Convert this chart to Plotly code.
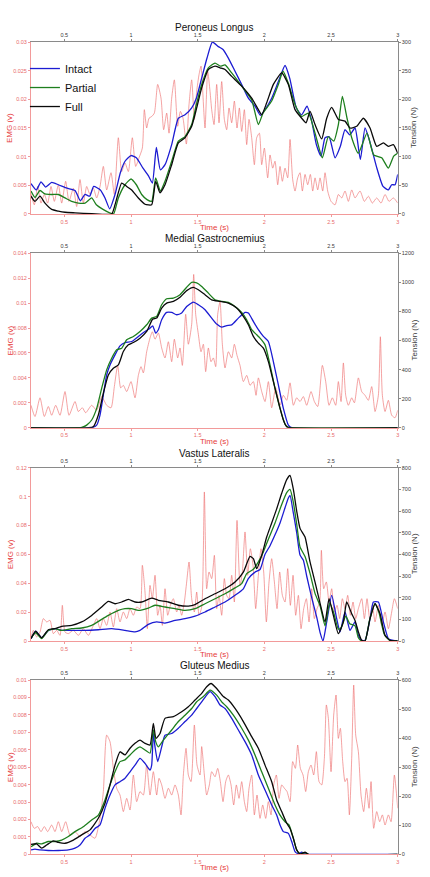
import plotly.graph_objects as go

# ================= DATA =================
# ---- Panel 1: Peroneus Longus ----
p1_emg_t = [0.25,0.275,0.3,0.325,0.35,0.375,0.4,0.425,0.455,0.48,0.51,0.535,0.5675,0.5925,0.6175,0.6425,0.6675,0.6925,0.7175,0.7425,
            0.7675,0.7925,0.8175,0.85,0.875,0.905,0.93,0.955,0.98,1.01,1.035,1.06,1.085,1.1,1.1175,1.135,1.155,1.175,1.2,1.225,
            1.245,1.2675,1.285,1.305,1.325,1.35,1.37,1.39,1.415,1.435,1.455,1.475,1.4925,1.51,1.525,1.535,1.555,1.575,1.5925,1.605,
            1.6225,1.6425,1.66,1.68,1.7,1.7175,1.735,1.755,1.775,1.795,1.8125,1.83,1.85,1.8675,1.885,1.905,1.925,1.9425,1.9625,1.98,
            2.0,2.025,2.0425,2.0625,2.08,2.1,2.1175,2.135,2.155,2.175,2.1925,2.2125,2.23,2.25,2.2675,2.285,2.305,2.325,2.345,2.3625,
            2.38,2.4,2.4175,2.4375,2.455,2.475,2.5,2.53,2.555,2.58,2.605,2.63,2.655,2.68,2.7175,2.75,2.78,2.81,2.8425,2.875,
            2.905,2.935,2.9675,3.0]
p1_emg = [0.0035,0.0016,0.0048,0.0019,0.0034,0.0019,0.0048,0.0022,0.0051,0.0019,0.0057,0.0022,0.0045,0.0013,0.006,0.0019,0.0048,0.0034,0.0045,0.0028,
          0.0048,0.0083,0.0042,0.0072,0.0034,0.0133,0.0074,0.0089,0.0074,0.0133,0.0083,0.0098,0.0115,0.0182,0.015,0.0167,0.017,0.0176,0.0226,0.0202,
          0.0147,0.0176,0.0141,0.0202,0.0234,0.0153,0.0179,0.0167,0.0122,0.0191,0.0234,0.0165,0.0214,0.0243,0.0258,0.0226,0.015,0.0249,0.0214,0.0182,
          0.0156,0.0226,0.0159,0.0231,0.0165,0.0147,0.0185,0.0159,0.0197,0.015,0.0185,0.0144,0.0182,0.0121,0.0165,0.0133,0.0086,0.0133,0.0141,0.0086,
          0.0115,0.0063,0.0103,0.008,0.0092,0.0051,0.0083,0.0057,0.008,0.0063,0.013,0.006,0.004,0.0063,0.0072,0.004,0.0069,0.0051,0.0069,0.004,
          0.0063,0.0042,0.0063,0.004,0.0072,0.004,0.0022,0.0016,0.0034,0.0028,0.004,0.0022,0.0042,0.0028,0.004,0.0022,0.0031,0.0019,0.0028,0.0019,
          0.0034,0.0022,0.0028,0.0019]
p1_intact_t = [0.25,0.29,0.325,0.36,0.405,0.455,0.52,0.58,0.62,0.655,0.69,0.72,0.77,0.805,0.84,0.88,0.92,0.955,1.0,1.04,
               1.09,1.13,1.16,1.19,1.22,1.255,1.305,1.355,1.405,1.455,1.49,1.53,1.57,1.61,1.655,1.69,1.73,1.78,1.83,1.88,
               1.93,1.97,2.005,2.055,2.105,2.155,2.19,2.24,2.28,2.32,2.355,2.39,2.425,2.455,2.485,2.53,2.57,2.605,2.64,2.68,
               2.72,2.755,2.79,2.84,2.89,2.93,2.955,2.98,3.0]
p1_intact = [53,42,56,47,55,51,45,41,23,34,31,48,42,28,9,34,72,92,102,98,
             80,67,54,116,77,86,121,167,173,185,202,237,272,300,292,287,272,249,226,202,
             188,172,182,202,231,259,237,185,173,188,162,121,101,133,135,98,118,147,138,150,
             95,150,127,83,48,42,51,51,69]
p1_partial_t = [0.25,0.28,0.3175,0.355,0.405,0.455,0.505,0.555,0.605,0.655,0.705,0.74,0.79,0.84,0.87,0.905,0.955,1.0,1.04,1.08,
                1.12,1.155,1.185,1.22,1.255,1.305,1.355,1.405,1.455,1.49,1.53,1.58,1.63,1.67,1.705,1.755,1.83,1.905,1.955,1.99,
                2.055,2.105,2.14,2.18,2.23,2.28,2.33,2.38,2.435,2.48,2.52,2.555,2.585,2.62,2.655,2.705,2.77,2.82,2.88,2.93,
                2.97,3.0]
p1_partial = [40,29,41,35,34,34,28,22,19,19,28,16,8,2,0.5,28,51,61,51,34,
              25,22,63,40,57,92,127,135,156,191,226,255,263,258,260,246,223,199,156,176,
              197,226,249,228,191,170,176,141,98,135,127,156,205,167,133,106,141,103,98,80,
              101,106]
p1_full_t = [0.25,0.28,0.3175,0.355,0.405,0.455,0.505,0.58,0.705,0.855,0.88,0.93,0.9675,1.005,1.055,1.105,1.155,1.185,1.2175,1.255,
             1.305,1.355,1.405,1.455,1.4925,1.53,1.58,1.63,1.6675,1.705,1.755,1.83,1.905,1.955,1.98,2.0175,2.0675,2.13,2.18,2.23,
             2.28,2.3125,2.3425,2.38,2.43,2.4675,2.505,2.555,2.605,2.6425,2.6925,2.7425,2.7925,2.8425,2.8925,2.93,2.9675,3.0]
p1_full = [31,22,31,19,8,5,3,2,0.5,0,16,54,48,42,28,17,16,57,37,51,
           86,124,133,153,185,220,252,258,255,252,240,223,202,182,173,194,226,246,226,182,
           167,159,179,156,131,167,186,165,162,150,153,167,150,118,124,118,121,106]

# ---- Panel 2: Medial Gastrocnemius ----
p2_emg_t = [0.25,0.28,0.3175,0.35,0.38,0.405,0.435,0.4675,0.505,0.535,0.58,0.605,0.635,0.66,0.705,0.7425,0.78,0.8175,0.85,0.875,
            0.9,0.9225,0.9425,0.9675,1.0,1.03,1.055,1.075,1.0925,1.1175,1.1425,1.16,1.18,1.205,1.23,1.255,1.28,1.305,1.325,1.35,
            1.3675,1.385,1.41,1.43,1.455,1.47,1.485,1.505,1.525,1.5425,1.56,1.58,1.6,1.6175,1.635,1.65,1.6675,1.685,1.705,1.73,
            1.755,1.775,1.795,1.8175,1.8425,1.8675,1.8925,1.9175,1.9375,1.955,1.98,2.005,2.03,2.055,2.085,2.1175,2.1425,2.1675,2.1925,2.2175,
            2.2425,2.2675,2.2925,2.3175,2.35,2.375,2.4,2.435,2.46,2.485,2.51,2.535,2.555,2.575,2.5925,2.61,2.63,2.655,2.675,2.705,
            2.73,2.755,2.78,2.805,2.83,2.855,2.87,2.885,2.905,2.93,2.955,2.98,3.0]
p2_emg = [0.0018,0.0009,0.0024,0.0009,0.0017,0.001,0.0018,0.001,0.0029,0.001,0.0021,0.0013,0.0016,0.0012,0.0018,0.0014,0.0025,0.0018,0.0016,0.0033,
          0.005,0.0032,0.0034,0.0029,0.0037,0.0024,0.0042,0.0049,0.0044,0.0061,0.0072,0.0077,0.0071,0.0076,0.0064,0.0056,0.0069,0.0053,0.0071,0.0056,
          0.0064,0.005,0.0091,0.0067,0.0083,0.0123,0.0091,0.0075,0.0061,0.0067,0.0045,0.0064,0.0053,0.0056,0.0049,0.0091,0.0101,0.0067,0.0048,0.0061,
          0.0056,0.0067,0.0058,0.005,0.0037,0.0042,0.0034,0.0037,0.0026,0.004,0.0029,0.0021,0.0037,0.0016,0.0032,0.0018,0.0026,0.0022,0.0036,0.0018,
          0.0024,0.0021,0.0025,0.0018,0.0029,0.0021,0.0017,0.005,0.0037,0.0018,0.0024,0.0018,0.0037,0.0021,0.0052,0.0026,0.0018,0.0024,0.002,0.004,
          0.0029,0.0026,0.0022,0.0033,0.0013,0.0026,0.0073,0.0026,0.0013,0.0022,0.001,0.0008,0.0014]
p2_intact_t = [0.25,0.705,0.7425,0.7675,0.7925,0.8175,0.8425,0.88,0.9175,0.955,1.005,1.055,1.105,1.1425,1.1625,1.185,1.205,1.23,1.2675,1.305,
               1.3425,1.38,1.4175,1.4675,1.505,1.555,1.605,1.6425,1.68,1.7175,1.755,1.805,1.855,1.88,1.9175,1.955,1.9925,2.03,2.0675,2.105,
               2.1425,2.18,2.205,3.0]
p2_intact = [0,0,18,87,225,363,432,501,563,586,593,628,662,685,701,651,674,743,793,793,
             777,789,834,864,846,812,754,713,692,703,708,754,793,789,731,674,628,593,455,294,
             133,18,0,0]
p2_partial_t = [0.25,0.605,0.63,0.6675,0.705,0.7425,0.78,0.8175,0.855,0.8925,0.93,0.9675,1.0175,1.0675,1.1175,1.155,1.1925,1.23,1.2675,1.3175,
                1.3675,1.4175,1.455,1.4925,1.53,1.58,1.63,1.68,1.73,1.78,1.83,1.8675,1.905,1.9425,1.9675,2.005,2.0425,2.08,2.1175,2.155,
                2.18,2.205,3.0]
p2_partial = [0,0,2,18,53,133,271,398,478,536,547,605,628,662,708,754,766,846,887,892,
              915,966,1000,996,972,926,880,869,862,834,793,743,674,639,616,570,432,271,133,25,
              2,0,0]
p2_full_t = [0.25,0.68,0.7175,0.755,0.7925,0.83,0.8675,0.905,0.9425,0.98,1.0175,1.0675,1.1175,1.1625,1.1925,1.23,1.2675,1.3175,1.3675,1.4175,
             1.4675,1.505,1.555,1.605,1.6675,1.73,1.7925,1.8425,1.88,1.9175,1.955,1.9925,2.03,2.0675,2.105,2.1425,2.1675,2.1925,3.0]
p2_full = [0,0,7,87,237,363,409,432,524,570,586,616,662,747,754,823,857,869,897,943,
           966,949,915,880,869,857,823,766,708,628,582,547,455,317,179,53,7,0,0]

# ---- Panel 3: Vastus Lateralis ----
p3_emg_t = [0.25,0.2675,0.2925,0.3175,0.3425,0.3675,0.3925,0.4175,0.4425,0.4675,0.485,0.505,0.53,0.5675,0.605,0.6425,0.68,0.7175,0.7425,0.7675,
            0.7925,0.8175,0.8425,0.8675,0.8925,0.9175,0.9425,0.9675,0.9925,1.0175,1.0425,1.0675,1.085,1.105,1.1225,1.1425,1.16,1.18,1.2,1.2175,
            1.235,1.255,1.275,1.295,1.3175,1.3425,1.36,1.38,1.4,1.4175,1.435,1.455,1.475,1.4925,1.51,1.53,1.55,1.5675,1.585,1.605,
            1.625,1.6425,1.66,1.68,1.7,1.7175,1.735,1.755,1.775,1.795,1.8175,1.835,1.855,1.875,1.895,1.915,1.935,1.955,1.975,1.995,
            2.015,2.035,2.055,2.075,2.095,2.115,2.135,2.155,2.175,2.195,2.215,2.235,2.255,2.275,2.295,2.315,2.335,2.355,2.375,2.395,
            2.415,2.4275,2.445,2.465,2.485,2.505,2.525,2.545,2.565,2.585,2.605,2.625,2.645,2.665,2.685,2.705,2.73,2.75,2.77,2.79,
            2.81,2.83,2.855,2.88,2.905,2.93,2.955,2.975,3.0]
p3_emg = [0.0016,0.0074,0.0028,0.0062,0.0155,0.0132,0.0143,0.0051,0.0074,0.0039,0.0247,0.0062,0.0051,0.0074,0.0039,0.0085,0.0039,0.0108,0.0155,0.0085,
          0.0155,0.0108,0.0201,0.0097,0.0224,0.0132,0.0201,0.0155,0.0224,0.0178,0.0235,0.0224,0.0524,0.0339,0.0085,0.0385,0.0293,0.0455,0.0178,0.0247,
          0.0108,0.0362,0.0178,0.0247,0.0293,0.0201,0.0247,0.0178,0.027,0.0409,0.0547,0.0293,0.0201,0.0339,0.0178,0.0235,0.1032,0.0362,0.0478,0.0432,
          0.0593,0.0224,0.0316,0.0178,0.0432,0.0316,0.0293,0.0455,0.027,0.0835,0.0385,0.0478,0.0755,0.0455,0.0639,0.0524,0.0224,0.0455,0.0639,0.0478,
          0.0132,0.0409,0.057,0.0409,0.0224,0.0478,0.0316,0.027,0.0501,0.0247,0.0455,0.0178,0.0316,0.0085,0.0224,0.0293,0.0132,0.0362,0.0155,0.0224,
          0.027,0.0628,0.0362,0.0409,0.027,0.0362,0.0201,0.0247,0.0155,0.0293,0.0224,0.0316,0.0178,0.027,0.0155,0.0224,0.0293,0.0155,0.0293,0.0155,
          0.0247,0.0132,0.0247,0.0108,0.0201,0.0085,0.0201,0.0293,0.0224]
p3_intact_t = [0.25,0.285,0.33,0.38,0.43,0.48,0.555,0.655,0.755,0.855,0.955,1.03,1.0675,1.13,1.1925,1.255,1.33,1.405,1.48,1.555,
               1.63,1.705,1.78,1.8425,1.88,1.93,1.9675,2.005,2.0425,2.08,2.1175,2.155,2.18,2.1925,2.2175,2.2425,2.2675,2.2925,2.3175,2.355,
               2.3925,2.4175,2.44,2.4675,2.505,2.5425,2.5675,2.605,2.6425,2.68,2.705,2.73,2.755,2.7925,2.8175,2.855,2.8925,2.93,2.9675,3.0]
p3_intact = [11,45,15,49,57,49,49,49,52,57,49,42,49,77,88,83,95,103,115,134,
             157,180,211,241,288,318,330,400,440,490,545,615,660,672,590,500,397,373,300,200,
             110,40,0,88,211,103,42,134,49,88,26,3,3,103,180,180,88,11,3,0]
p3_partial_t = [0.25,0.285,0.33,0.38,0.43,0.48,0.555,0.63,0.705,0.78,0.83,0.905,0.955,1.005,1.055,1.13,1.18,1.255,1.33,1.405,
                1.48,1.555,1.63,1.705,1.78,1.83,1.8675,1.9175,1.955,1.9925,2.03,2.08,2.13,2.1675,2.1925,2.2175,2.2425,2.2675,2.305,2.3425,
                2.38,2.42,2.455,2.49,2.52,2.555,2.575,2.61,2.64,2.68,2.705,2.73,2.755,2.79,2.83,2.86,2.9,2.94,3.0]
p3_partial = [14,38,11,49,57,49,57,60,72,100,118,141,149,149,141,152,165,157,149,141,
              149,172,195,218,245,265,311,331,365,411,470,545,630,685,700,640,540,434,390,312,
              220,158,70,175,130,55,60,115,80,70,15,0,0,100,172,130,30,3,0]
p3_full_t = [0.25,0.285,0.33,0.38,0.43,0.48,0.555,0.63,0.705,0.78,0.83,0.88,0.93,0.98,1.03,1.08,1.155,1.205,1.28,1.355,
             1.43,1.48,1.555,1.63,1.705,1.78,1.8425,1.8925,1.9175,1.9425,1.98,2.0175,2.055,2.0925,2.13,2.1675,2.1925,2.2175,2.2425,2.2675,
             2.305,2.3425,2.38,2.4175,2.455,2.485,2.5175,2.555,2.5925,2.6175,2.655,2.68,2.705,2.73,2.755,2.7925,2.83,2.8675,2.905,2.9425,3.0]
p3_full = [11,45,15,52,57,68,72,88,118,157,183,172,180,192,180,180,198,188,180,165,
           161,168,195,218,241,272,318,391,380,334,395,480,545,610,682,745,764,700,600,520,
           480,365,272,175,88,195,118,34,88,180,126,95,42,3,0,103,172,126,26,3,0]

# ---- Panel 4: Gluteus Medius ----
p4_emg_t = [0.25,0.275,0.3,0.325,0.35,0.375,0.405,0.43,0.455,0.48,0.51,0.5425,0.58,0.6175,0.655,0.6925,0.73,0.7675,0.7925,0.8175,
            0.8425,0.8675,0.8925,0.9175,0.9425,0.9675,0.9925,1.0175,1.0425,1.0675,1.0925,1.1175,1.1425,1.1675,1.1925,1.21,1.23,1.255,1.28,1.305,
            1.33,1.355,1.375,1.3925,1.4125,1.43,1.45,1.475,1.495,1.5175,1.53,1.55,1.5675,1.5875,1.605,1.63,1.65,1.67,1.69,1.71,
            1.73,1.75,1.77,1.79,1.81,1.83,1.85,1.8675,1.885,1.905,1.925,1.945,1.9675,1.9875,2.01,2.03,2.05,2.07,2.09,2.11,
            2.13,2.15,2.17,2.1925,2.2125,2.2325,2.25,2.27,2.29,2.31,2.33,2.35,2.37,2.39,2.41,2.43,2.45,2.465,2.48,2.5,
            2.52,2.5375,2.555,2.57,2.5875,2.605,2.62,2.6375,2.655,2.67,2.685,2.705,2.725,2.745,2.765,2.785,2.8,2.82,2.8425,2.865,
            2.885,2.905,2.93,2.95,2.975,3.0]
p4_emg = [0.00187,0.00149,0.00159,0.0013,0.00159,0.0013,0.00168,0.0013,0.00187,0.0013,0.00187,0.00111,0.0013,0.00101,0.0013,0.00111,0.00092,0.00206,0.0036,0.00684,
          0.00646,0.00493,0.00379,0.0034,0.00245,0.00321,0.00254,0.00455,0.00302,0.0036,0.0034,0.00512,0.0034,0.00474,0.0034,0.00436,0.00398,0.00321,0.00379,0.0034,
          0.00398,0.0034,0.00226,0.00455,0.00608,0.00455,0.00417,0.00742,0.00512,0.00455,0.00618,0.00455,0.0034,0.00398,0.00474,0.00445,0.00493,0.00417,0.00302,0.00417,
          0.00455,0.00398,0.00283,0.00398,0.00321,0.00417,0.00302,0.00245,0.00379,0.00455,0.00226,0.0034,0.00206,0.00283,0.00206,0.00302,0.00226,0.00398,0.00455,0.00321,
          0.00398,0.00379,0.0036,0.00302,0.00532,0.00493,0.00627,0.00493,0.00455,0.0036,0.00474,0.00512,0.00455,0.00589,0.00417,0.00398,0.00551,0.00857,0.0078,0.00474,
          0.00799,0.00914,0.00665,0.00723,0.00532,0.00417,0.00436,0.00226,0.00551,0.00971,0.00684,0.00589,0.0034,0.00245,0.00379,0.00264,0.00417,0.00149,0.00245,0.00187,
          0.00226,0.00168,0.00226,0.00187,0.00455,0.00264]
p4_intact_t = [0.25,0.28,0.3175,0.38,0.455,0.53,0.58,0.6175,0.655,0.6925,0.73,0.7675,0.805,0.8425,0.88,0.9175,0.955,0.9925,1.03,1.0675,
               1.105,1.1425,1.155,1.1675,1.18,1.2,1.23,1.255,1.305,1.355,1.405,1.455,1.4925,1.53,1.5675,1.5925,1.63,1.6675,1.705,1.755,
               1.805,1.855,1.905,1.955,2.005,2.055,2.0925,2.1175,2.1425,2.18,2.205,2.23,2.255,2.28,2.305,2.33,3.0]
p4_intact = [15,18,15,13,13,15,21,32,55,67,89,101,158,204,239,250,262,284,307,330,
             313,290,307,416,370,319,370,410,416,434,457,479,502,525,548,560,543,514,502,468,
             428,388,342,273,221,170,135,101,78,72,44,9,1,7,1,0,0]
p4_partial_t = [0.25,0.2925,0.33,0.38,0.43,0.48,0.53,0.58,0.6425,0.705,0.755,0.805,0.8425,0.88,0.9175,0.955,0.9925,1.03,1.0675,1.105,
                1.1425,1.1675,1.185,1.205,1.2425,1.305,1.355,1.405,1.455,1.4925,1.5425,1.5925,1.6425,1.68,1.7175,1.7675,1.83,1.88,1.93,1.98,
                2.03,2.08,2.1175,2.155,2.185,2.2175,2.2425,2.2675,2.305,2.33,3.0]
p4_partial = [26,38,36,44,44,49,61,78,95,118,135,187,239,284,319,325,342,359,370,359,
              348,428,388,370,393,428,457,479,502,525,543,565,548,525,508,479,434,393,342,284,
              227,170,135,112,101,55,15,1,6,0,0]
p4_full_t = [0.25,0.2925,0.33,0.3675,0.4175,0.455,0.505,0.5675,0.63,0.6925,0.755,0.805,0.8425,0.88,0.9175,0.955,0.9925,1.03,1.0675,1.105,
             1.1425,1.1675,1.1875,1.2175,1.255,1.3175,1.38,1.43,1.48,1.53,1.5675,1.6,1.6425,1.6925,1.73,1.78,1.8425,1.905,1.955,2.005,
             2.055,2.0925,2.13,2.1675,2.1925,2.2175,2.2425,2.2675,2.305,2.33,3.0]
p4_full = [34,36,21,32,46,41,38,49,67,84,124,176,239,307,353,342,365,382,393,382,
           376,451,399,416,468,474,491,508,531,554,577,588,571,543,531,502,457,405,365,307,
           250,187,147,107,89,55,15,1,7,0,0]

titles = ["Peroneus Longus", "Medial Gastrocnemius", "Vastus Lateralis", "Gluteus Medius"]
series_names = ["Intact", "Partial", "Full"]
x_ticks = [0.5, 1, 1.5, 2, 2.5, 3]

# ================= STYLE / LAYOUT =================
panels = [
    dict(emg=(p1_emg_t, p1_emg), ten=[(p1_intact_t, p1_intact), (p1_partial_t, p1_partial), (p1_full_t, p1_full)],
         emg_range=[0, 0.03], emg_dtick=0.005, ten_range=[0, 300], ten_dtick=50, dom=[0.7560, 0.9521], ty=0.9681),
    dict(emg=(p2_emg_t, p2_emg), ten=[(p2_intact_t, p2_intact), (p2_partial_t, p2_partial), (p2_full_t, p2_full)],
         emg_range=[0, 0.014], emg_dtick=0.002, ten_range=[0, 1200], ten_dtick=200, dom=[0.5123, 0.7112], ty=0.7275),
    dict(emg=(p3_emg_t, p3_emg), ten=[(p3_intact_t, p3_intact), (p3_partial_t, p3_partial), (p3_full_t, p3_full)],
         emg_range=[0, 0.12], emg_dtick=0.02, ten_range=[0, 800], ten_dtick=100, dom=[0.2691, 0.4667], ty=0.4829),
    dict(emg=(p4_emg_t, p4_emg), ten=[(p4_intact_t, p4_intact), (p4_partial_t, p4_partial), (p4_full_t, p4_full)],
         emg_range=[0, 0.01], emg_dtick=0.001, ten_range=[0, 600], ten_dtick=100, dom=[0.0259, 0.2246], ty=0.2410),
]

FONT = "Liberation Sans, Arial, Helvetica, sans-serif"
XDOM = [0.0721, 0.9249]
RED_LINE = "#f29a9a"
RED_TICK = "#e86b6b"
RED_TITLE = "#e63c3c"
EMG_COLOR = "rgba(238,110,110,0.8)"
GRAY_LINE = "#8a8a8a"
GRAY_TXT = "#3a3a3a"
LINE_COLORS = ["#1c1cd2", "#1e7f1e", "#0a0a0a"]
TICK_SIZE = 5.5

fig = go.Figure()
layout = dict(
    width=430, height=877, autosize=False,
    margin=dict(l=0, r=0, t=0, b=0, pad=0),
    paper_bgcolor="white", plot_bgcolor="white",
    font=dict(family=FONT, color=GRAY_TXT),
    showlegend=True,
    legend=dict(x=0.058, y=0.9384, xanchor="left", yanchor="top", bgcolor="rgba(0,0,0,0)",
                font=dict(size=11, color="#111111", family=FONT), itemwidth=30, tracegroupgap=0),
    annotations=[],
)


def ax(n, kind):
    return (kind + "axis") if n == 1 else f"{kind}axis{n}"


def ref(n, kind):
    return kind if n == 1 else f"{kind}{n}"


for k, p in enumerate(panels):
    a = 2 * k + 1
    b = 2 * k + 2
    assert len(p["emg"][0]) == len(p["emg"][1])
    fig.add_trace(go.Scatter(x=p["emg"][0], y=p["emg"][1], mode="lines",
                             line=dict(color=EMG_COLOR, width=0.8, shape="spline", smoothing=0.6),
                             xaxis=ref(a, "x"), yaxis=ref(a, "y"), showlegend=False, hoverinfo="skip"))
    for i, (tt, vv) in enumerate(p["ten"]):
        assert len(tt) == len(vv), (k, i, len(tt), len(vv))
        fig.add_trace(go.Scatter(x=tt, y=vv, mode="lines", name=series_names[i],
                                 line=dict(color=LINE_COLORS[i], width=1.3, shape="spline", smoothing=0.5),
                                 xaxis=ref(b, "x"), yaxis=ref(b, "y"), showlegend=(k == 0)))

    common = dict(showgrid=False, zeroline=False, ticks="outside", ticklen=2, tickwidth=1, linewidth=1,
                  showline=True, automargin=False, fixedrange=True)
    layout[ax(a, "x")] = dict(common, domain=XDOM, range=[0.25, 3], anchor=ref(a, "y"), side="bottom",
                             tickvals=x_ticks, linecolor=RED_LINE, tickcolor=RED_LINE,
                             tickfont=dict(size=TICK_SIZE, color=RED_TICK, family=FONT))
    layout[ax(b, "x")] = dict(common, range=[0.25, 3], overlaying=ref(a, "x"), anchor=ref(a, "y"), side="top",
                             tickvals=x_ticks, linecolor=GRAY_LINE, tickcolor=GRAY_LINE,
                             tickfont=dict(size=TICK_SIZE, color=GRAY_TXT, family=FONT))
    layout[ax(a, "y")] = dict(common, domain=p["dom"], range=p["emg_range"], dtick=p["emg_dtick"], tick0=0,
                             anchor=ref(a, "x"), side="left", linecolor=RED_LINE, tickcolor=RED_LINE,
                             tickfont=dict(size=TICK_SIZE, color=RED_TICK, family=FONT))
    layout[ax(b, "y")] = dict(common, range=p["ten_range"], dtick=p["ten_dtick"], tick0=0,
                             overlaying=ref(a, "y"), anchor=ref(a, "x"), side="right",
                             linecolor=GRAY_LINE, tickcolor=GRAY_LINE,
                             tickfont=dict(size=TICK_SIZE, color=GRAY_TXT, family=FONT))

    ymid = (p["dom"][0] + p["dom"][1]) / 2
    layout["annotations"] += [
        dict(text=titles[k], x=0.4985, y=p["ty"], xref="paper", yref="paper", showarrow=False,
             xanchor="center", yanchor="middle", font=dict(size=10, color="#111111", family=FONT)),
        dict(text="EMG (v)", x=0.0233, y=ymid, xref="paper", yref="paper", showarrow=False, textangle=-90,
             xanchor="center", yanchor="middle", font=dict(size=8, color=RED_TITLE, family=FONT)),
        dict(text="Tension (N)", x=0.9628, y=ymid, xref="paper", yref="paper", showarrow=False, textangle=-90,
             xanchor="center", yanchor="middle", font=dict(size=8, color=GRAY_TXT, family=FONT)),
        dict(text="Time (s)", x=0.4985, y=p["dom"][0] - 13.5 / 877, xref="paper", yref="paper", showarrow=False,
             xanchor="center", yanchor="middle", font=dict(size=8, color=RED_TITLE, family=FONT)),
    ]

fig.update_layout(**layout)
fig.write_html("out.html", include_plotlyjs=True, config={"displayModeBar": False},
               post_script="document.body.style.margin='0';document.body.style.padding='0';")
